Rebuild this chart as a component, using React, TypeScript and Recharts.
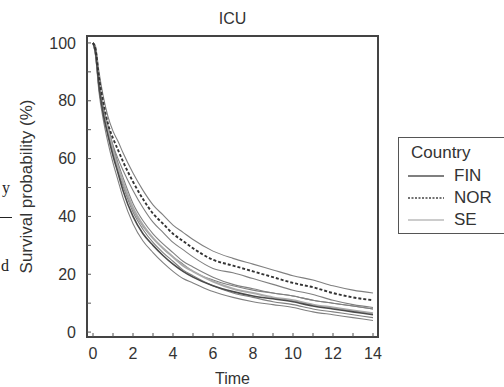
import { LineChart, Line, XAxis, YAxis, ReferenceArea } from 'recharts'

// follow-up time (years) and Kaplan-Meier estimates (%) per country
const times = [0, 0.12, 0.3, 0.5, 0.75, 1, 1.25, 1.5, 2, 2.5, 3, 3.5, 4, 4.5, 5, 6, 7, 8, 9, 10, 11, 12, 13, 14]

const finMean = [100, 97, 85, 76, 68, 61, 55, 49, 40, 34, 30, 26.5, 23.5, 21, 19, 16, 14, 12.5, 11.5, 10.5, 9, 8, 7, 6]
const finUpper = [100, 98, 87, 78, 70.5, 63.5, 57.5, 51.5, 42.5, 36.5, 32.5, 29, 26, 23.5, 21, 18, 16, 14.5, 13.5, 12.5, 11, 10, 9, 8]
const finLower = [100, 96, 83, 74, 65.5, 58.5, 52.5, 46.5, 37.5, 31.5, 27.5, 24, 21, 18.5, 17, 14, 12, 10.5, 9.5, 8.5, 7, 6, 5, 4]

const norMean = [100, 98, 88, 80, 72, 67, 63, 59, 52, 46, 41, 37.5, 34, 31.5, 29, 25, 23, 21, 19, 17, 15.5, 13.5, 12, 11]
const norUpper = [100, 99, 90, 82, 74.5, 69.5, 66, 62, 55, 49, 44, 40.5, 37, 34.5, 32, 28, 25.5, 23.5, 21.5, 19.5, 18, 16, 14.5, 13.5]
const norLower = [100, 97, 86, 78, 69.5, 64.5, 60, 56, 49, 43, 38, 34.5, 31, 28.5, 26, 22, 20.5, 18.5, 16.5, 14.5, 13, 11, 9.5, 8.5]

const seMean = [100, 97, 86, 77, 70, 63, 57, 52, 43, 37, 32.5, 29, 26, 23, 21, 17.5, 15, 13.5, 12, 11, 9.5, 8.5, 7.5, 6.5]
const seUpper = [100, 98, 87.5, 78.5, 71.5, 64.5, 58.5, 53.5, 44.5, 38.5, 34, 30.5, 27.5, 24.5, 22.5, 19, 16.5, 15, 13.5, 12.5, 11, 10, 9, 8]
const seLower = [100, 96, 84.5, 75.5, 68.5, 61.5, 55.5, 50.5, 41.5, 35.5, 31, 27.5, 24.5, 21.5, 19.5, 16, 13.5, 12, 10.5, 9.5, 8, 7, 6, 5]

const xTicks = [0, 1, 2, 3, 4, 5, 6, 7, 8, 9, 10, 11, 12, 13, 14]
const yTicks = [0, 10, 20, 30, 40, 50, 60, 70, 80, 90, 100]

const countries = [
  { name: 'FIN', color: '#555', dash: undefined as string | undefined },
  { name: 'NOR', color: '#444', dash: '2 1.5' },
  { name: 'SE', color: '#bbb', dash: undefined as string | undefined },
]

const data = times.map((t, i) => ({
  t,
  fin: finMean[i], finHi: finUpper[i], finLo: finLower[i],
  nor: norMean[i], norHi: norUpper[i], norLo: norLower[i],
  se: seMean[i], seHi: seUpper[i], seLo: seLower[i],
}))

const X_DOMAIN: [number, number] = [-0.3, 14.25]
const Y_DOMAIN: [number, number] = [-1.7, 102.4]
const FONT = '"Liberation Sans", Arial, sans-serif'
const TICK = { fill: '#333', fontSize: 16, fontFamily: FONT }

function CountryLegend() {
  return (
    <div
      style={{
        position: 'absolute', left: 398, top: 137, width: 120, height: 95,
        border: '1.5px solid #555', background: '#fff', fontFamily: FONT, color: '#333',
      }}
    >
      <div style={{ position: 'absolute', left: 12, top: 5, fontSize: 17 }}>Country</div>
      {countries.map((c, i) => (
        <div key={c.name} style={{ position: 'absolute', left: 9, top: 28 + i * 22, height: 20, display: 'flex', alignItems: 'center' }}>
          <svg width={36} height={4}>
            <line x1={0} y1={2} x2={36} y2={2} stroke={c.color} strokeWidth={1.3} strokeDasharray={c.dash} />
          </svg>
          <span style={{ marginLeft: 10, fontSize: 17 }}>{c.name}</span>
        </div>
      ))}
    </div>
  )
}

export default function App() {
  const ci = { type: 'monotone' as const, dot: false, isAnimationActive: false, stroke: '#808080', strokeWidth: 1.1 }
  return (
    <div style={{ position: 'absolute', left: 0, top: 0, width: 504, height: 387, background: '#fff', overflow: 'hidden' }}>
      <div
        style={{
          position: 'absolute', left: 87, width: 291, top: 10, textAlign: 'center',
          fontFamily: FONT, fontSize: 16, color: '#333',
        }}
      >
        ICU
      </div>
      <LineChart width={504} height={387} data={data} margin={{ top: 36, right: 126, bottom: 0, left: 0 }}>
        <XAxis
          dataKey="t"
          type="number"
          domain={X_DOMAIN}
          allowDataOverflow
          ticks={xTicks}
          interval={0}
          tickFormatter={(v: number) => (v % 2 === 0 ? String(v) : '')}
          tick={TICK}
          tickSize={-4}
          tickMargin={15}
          tickLine={{ stroke: '#555' }}
          axisLine={false}
          height={50}
          label={{ value: 'Time', position: 'insideBottom', offset: 3, fill: '#333', fontSize: 16, fontFamily: FONT }}
        />
        <YAxis
          type="number"
          domain={Y_DOMAIN}
          allowDataOverflow
          ticks={yTicks}
          interval={0}
          tickFormatter={(v: number) => (v % 20 === 0 ? String(v) : '')}
          tick={TICK}
          tickSize={-4}
          tickMargin={15}
          tickLine={{ stroke: '#555' }}
          axisLine={false}
          width={87}
          label={{
            value: 'Survival probability (%)', angle: -90, position: 'insideLeft', offset: 26,
            style: { textAnchor: 'middle' }, fill: '#333', fontSize: 17, fontFamily: FONT,
          }}
        />
        <Line dataKey="finHi" {...ci} />
        <Line dataKey="finLo" {...ci} />
        <Line dataKey="seHi" {...ci} />
        <Line dataKey="seLo" {...ci} />
        <Line dataKey="norHi" {...ci} />
        <Line dataKey="norLo" {...ci} />
        <Line dataKey="se" name="SE" type="monotone" dot={false} stroke="#aaa" strokeWidth={2} isAnimationActive={false} />
        <Line dataKey="fin" name="FIN" type="monotone" dot={false} stroke="#4a4a4a" strokeWidth={1.6} isAnimationActive={false} />
        <Line dataKey="nor" name="NOR" type="monotone" dot={false} stroke="#333" strokeWidth={1.9} strokeDasharray="3 2" isAnimationActive={false} />
        <ReferenceArea
          x1={X_DOMAIN[0]} x2={X_DOMAIN[1]} y1={Y_DOMAIN[0]} y2={Y_DOMAIN[1]}
          fill="none" stroke="#444" strokeWidth={2} ifOverflow="visible"
        />
      </LineChart>
      <CountryLegend />
      <div style={{ position: 'absolute', left: 2, top: 180, fontFamily: 'serif', fontSize: 16, color: '#222', lineHeight: 1 }}>y</div>
      <div style={{ position: 'absolute', left: 0, top: 217, width: 12, borderTop: '1px solid #222' }} />
      <div style={{ position: 'absolute', left: 1, top: 258, fontFamily: 'serif', fontSize: 16, color: '#222', lineHeight: 1 }}>d</div>
    </div>
  )
}
